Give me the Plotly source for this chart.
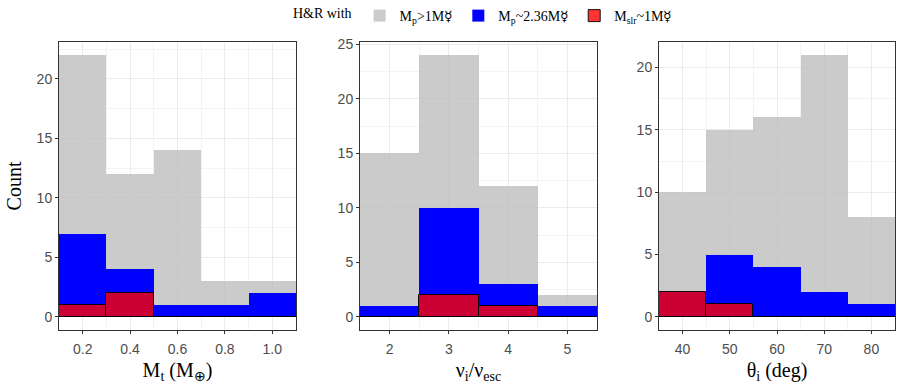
import plotly.graph_objects as go
from plotly.subplots import make_subplots

# Panel 1: Mt (M_earth), bins width 0.2
mt_centers = [0.2, 0.4, 0.6, 0.8, 1.0]
mt_gray = [22, 12, 14, 3, 3]
mt_blue = [7, 4, 1, 1, 2]
mt_red = [1, 2, 0, 0, 0]

# Panel 2: vi/vesc, bins width 1
vi_centers = [2, 3, 4, 5]
vi_gray = [15, 24, 12, 2]
vi_blue = [1, 10, 3, 1]
vi_red = [0, 2, 1, 0]

# Panel 3: theta_i (deg), bins width 10
th_centers = [40, 50, 60, 70, 80]
th_gray = [10, 15, 16, 21, 8]
th_blue = [2, 5, 4, 2, 1]
th_red = [2, 1, 0, 0, 0]

names = ["M<sub>p</sub>>1M☿", "M<sub>p</sub>~2.36M☿", "M<sub>slr</sub>~1M☿"]

panels = [
    (mt_centers, 0.2, mt_gray, mt_blue, mt_red, [0.1, 1.1], [-1.1, 23.1],
     [0.2, 0.4, 0.6, 0.8, 1.0], ["0.2", "0.4", "0.6", "0.8", "1.0"], [0, 5, 10, 15, 20],
     "M<sub>t</sub> (M<sub>⊕</sub>)"),
    (vi_centers, 1.0, vi_gray, vi_blue, vi_red, [1.5, 5.5], [-1.2, 25.2],
     [2, 3, 4, 5], ["2", "3", "4", "5"], [0, 5, 10, 15, 20, 25],
     "ν<sub>i</sub>/ν<sub>esc</sub>"),
    (th_centers, 10.0, th_gray, th_blue, th_red, [35, 85], [-1.05, 22.05],
     [40, 50, 60, 70, 80], ["40", "50", "60", "70", "80"], [0, 5, 10, 15, 20],
     "θ<sub>i</sub> (deg)"),
]

fig = make_subplots(rows=1, cols=3)

W, H = 897, 390
ml, mr, mt, mb = 59, 2, 42, 60
pw = W - ml - mr
domains = [
    [0.0, (296 - ml) / pw],
    [(360 - ml) / pw, (597 - ml) / pw],
    [(659 - ml) / pw, 1.0],
]

gray = "rgba(190,190,190,0.8)"
blue = "rgb(0,0,255)"
red = "rgba(255,0,0,0.8)"

tickfont = dict(family="Liberation Sans, Arial, sans-serif", size=14, color="#4D4D4D")
serif = "Liberation Serif, Times New Roman, serif"

for i, (cx, w, g, b, r, xr, yr, xt, xtl, yt, xtitle) in enumerate(panels):
    col = i + 1
    first = i == 0
    fig.add_trace(go.Bar(x=cx, y=g, width=[w] * len(cx), marker=dict(color=gray, line=dict(width=0)),
                         name=names[0], legendgroup="g", showlegend=first), row=1, col=col)
    fig.add_trace(go.Bar(x=cx, y=b, width=[w] * len(cx), marker=dict(color=blue, line=dict(width=0)),
                         name=names[1], legendgroup="b", showlegend=first), row=1, col=col)
    fig.add_trace(go.Bar(x=cx, y=r, width=[w] * len(cx),
                         marker=dict(color=red, line=dict(width=1, color="rgba(0,0,0,0.9)")),
                         name=names[2], legendgroup="r", showlegend=first), row=1, col=col)
    fig.update_xaxes(domain=domains[i], range=xr, tickvals=xt, ticktext=xtl, automargin=False,
                     showgrid=True, gridcolor="#EBEBEB", gridwidth=1.2,
                     minor=dict(showgrid=True, gridcolor="#F3F3F3", gridwidth=0.6,
                                tickvals=[(xt[k] + xt[k + 1]) / 2 for k in range(len(xt) - 1)]
                                + [xt[0] - (xt[1] - xt[0]) / 2, xt[-1] + (xt[1] - xt[0]) / 2]),
                     ticks="outside", ticklen=3, tickcolor="#333333", tickwidth=1,
                     ticklabelstandoff=3,
                     showline=True, linecolor="#333333", linewidth=1, mirror=True,
                     zeroline=False, tickfont=tickfont,
                     title=dict(text=xtitle, font=dict(family=serif, size=20, color="black"), standoff=7),
                     row=1, col=col)
    fig.update_yaxes(range=yr, tickvals=yt, automargin=False,
                     showgrid=True, gridcolor="#EBEBEB", gridwidth=1.2,
                     minor=dict(showgrid=True, gridcolor="#F3F3F3", gridwidth=0.6,
                                tickvals=[v + 2.5 for v in yt]),
                     ticks="outside", ticklen=3, tickcolor="#333333", tickwidth=1,
                     showline=True, linecolor="#333333", linewidth=1, mirror=True,
                     zeroline=False, tickfont=tickfont,
                     row=1, col=col)

fig.update_yaxes(title=dict(text="Count", font=dict(family=serif, size=20, color="black"), standoff=9),
                 row=1, col=1)

fig.update_layout(
    width=W, height=H,
    margin=dict(l=ml, r=mr, t=mt, b=mb),
    barmode="overlay", bargap=0,
    plot_bgcolor="white", paper_bgcolor="white",
    legend=dict(orientation="h", x=0.54, xanchor="center", y=1.0, yanchor="top",
                yref="container", xref="container",
                title=dict(text="H&R with", font=dict(family=serif, size=14, color="black")),
                font=dict(family=serif, size=14, color="black"),
                itemwidth=30, traceorder="normal"),
)

fig.write_html("out.html", config={"displayModeBar": False},
               post_script="document.body.style.margin='0';document.body.style.overflow='hidden';")
